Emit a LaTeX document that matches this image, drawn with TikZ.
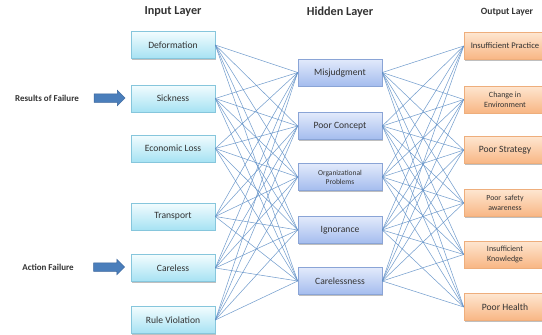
\documentclass[tikz,border=0pt]{standalone}
\usepackage{fontspec}
\setmainfont{Carlito}
\usetikzlibrary{shadows,shapes.arrows}

\definecolor{txt}{HTML}{333333}
\definecolor{inTop}{HTML}{F2FCFE}
\definecolor{inBot}{HTML}{A6E2F3}
\definecolor{inLine}{HTML}{86C6DC}
\definecolor{hidTop}{HTML}{E2EAFB}
\definecolor{hidBot}{HTML}{A4BCEE}
\definecolor{hidLine}{HTML}{8AA4D6}
\definecolor{outTop}{HTML}{FEE6D0}
\definecolor{outBot}{HTML}{F8B684}
\definecolor{outLine}{HTML}{EEAE7C}
\definecolor{wire}{HTML}{5F8FC6}
\definecolor{arrowFill}{HTML}{4A7EBB}
\definecolor{arrowLine}{HTML}{3A659A}

\tikzset{
  box/.style={rectangle, minimum width=84pt, minimum height=27pt, inner sep=1pt,
    align=center, text=txt, font=\fontsize{9.6}{10}\selectfont, line width=0.6pt,
    drop shadow={shadow xshift=1pt, shadow yshift=-1.2pt, opacity=0.25, fill=black}},
  inbox/.style={box, draw=inLine, top color=inTop, bottom color=inBot},
  hidbox/.style={box, draw=hidLine, top color=hidTop, bottom color=hidBot},
  outbox/.style={box, minimum width=82pt, draw=outLine, top color=outTop, bottom color=outBot},
  wireline/.style={draw=wire, line width=0.55pt, opacity=0.85},
  title/.style={text=txt, font=\bfseries\fontsize{12.2}{13}\selectfont},
  sidelabel/.style={text=txt, font=\bfseries\fontsize{9}{10}\selectfont},
  blockarrow/.style={single arrow, draw=arrowLine, fill=arrowFill, line width=0.5pt,
    minimum height=31pt, inner xsep=0pt, inner ysep=4pt, text height=0pt, text depth=0pt,
    single arrow head extend=3.5pt, single arrow tip angle=90,
    single arrow head indent=0pt, shape border rotate=0}
}

\begin{document}
\begin{tikzpicture}[x=1pt, y=-1pt]
  \useasboundingbox (0,0) rectangle (542,335);

  % layer titles
  \node[title] (tIn) at (173,12) {Input Layer};
  \node[title] (tHid) at (340,12) {Hidden Layer};
  \node[title, font=\bfseries\fontsize{9.6}{11}\selectfont] (tOut) at (507,12) {Output Layer};

  % input layer
  \node[inbox] (i1) at (173,45)    {Deformation};
  \node[inbox] (i2) at (173,98.5)  {Sickness};
  \node[inbox] (i3) at (173,148.5) {Economic Loss};
  \node[inbox] (i4) at (173,216.5) {Transport};
  \node[inbox] (i5) at (173,268)   {Careless};
  \node[inbox] (i6) at (173,320)   {Rule Violation};

  % hidden layer
  \node[hidbox] (h1) at (340,72.5) {Misjudgment};
  \node[hidbox] (h2) at (340,126)  {Poor Concept};
  \node[hidbox, font=\fontsize{7.5}{9}\selectfont] (h3) at (340,177) {Organizational\\Problems};
  \node[hidbox] (h4) at (340,230)  {Ignorance};
  \node[hidbox] (h5) at (340,281)  {Carelessness};

  % output layer
  \node[outbox, font=\fontsize{8.6}{10}\selectfont] (o1) at (505,46) {Insufficient Practice};
  \node[outbox, font=\fontsize{8}{9.5}\selectfont] (o2) at (505,99.5) {Change in\\Environment};
  \node[outbox] (o3) at (505,150) {Poor Strategy};
  \node[outbox, font=\fontsize{7.8}{9.5}\selectfont] (o4) at (505,203) {Poor~~safety\\awareness};
  \node[outbox, font=\fontsize{8}{9.5}\selectfont] (o5) at (505,254.5) {Insufficient\\Knowledge};
  \node[outbox] (o6) at (505,307) {Poor Health};

  % full connections between layers
  \foreach \a in {1,...,6}
    \foreach \b in {1,...,5}
      \draw[wireline] (i\a.east) -- (h\b.west);
  \foreach \a in {1,...,5}
    \foreach \b in {1,...,6}
      \draw[wireline] (h\a.east) -- (o\b.west);

  % side labels with block arrows
  \node[sidelabel] (rf) at (47,98) {Results of Failure};
  \node[blockarrow] (ra) at (107.5,98) {};
  \node[sidelabel] (af) at (48,267) {Action Failure};
  \node[blockarrow] (aa) at (107,267) {};
\end{tikzpicture}
\end{document}
